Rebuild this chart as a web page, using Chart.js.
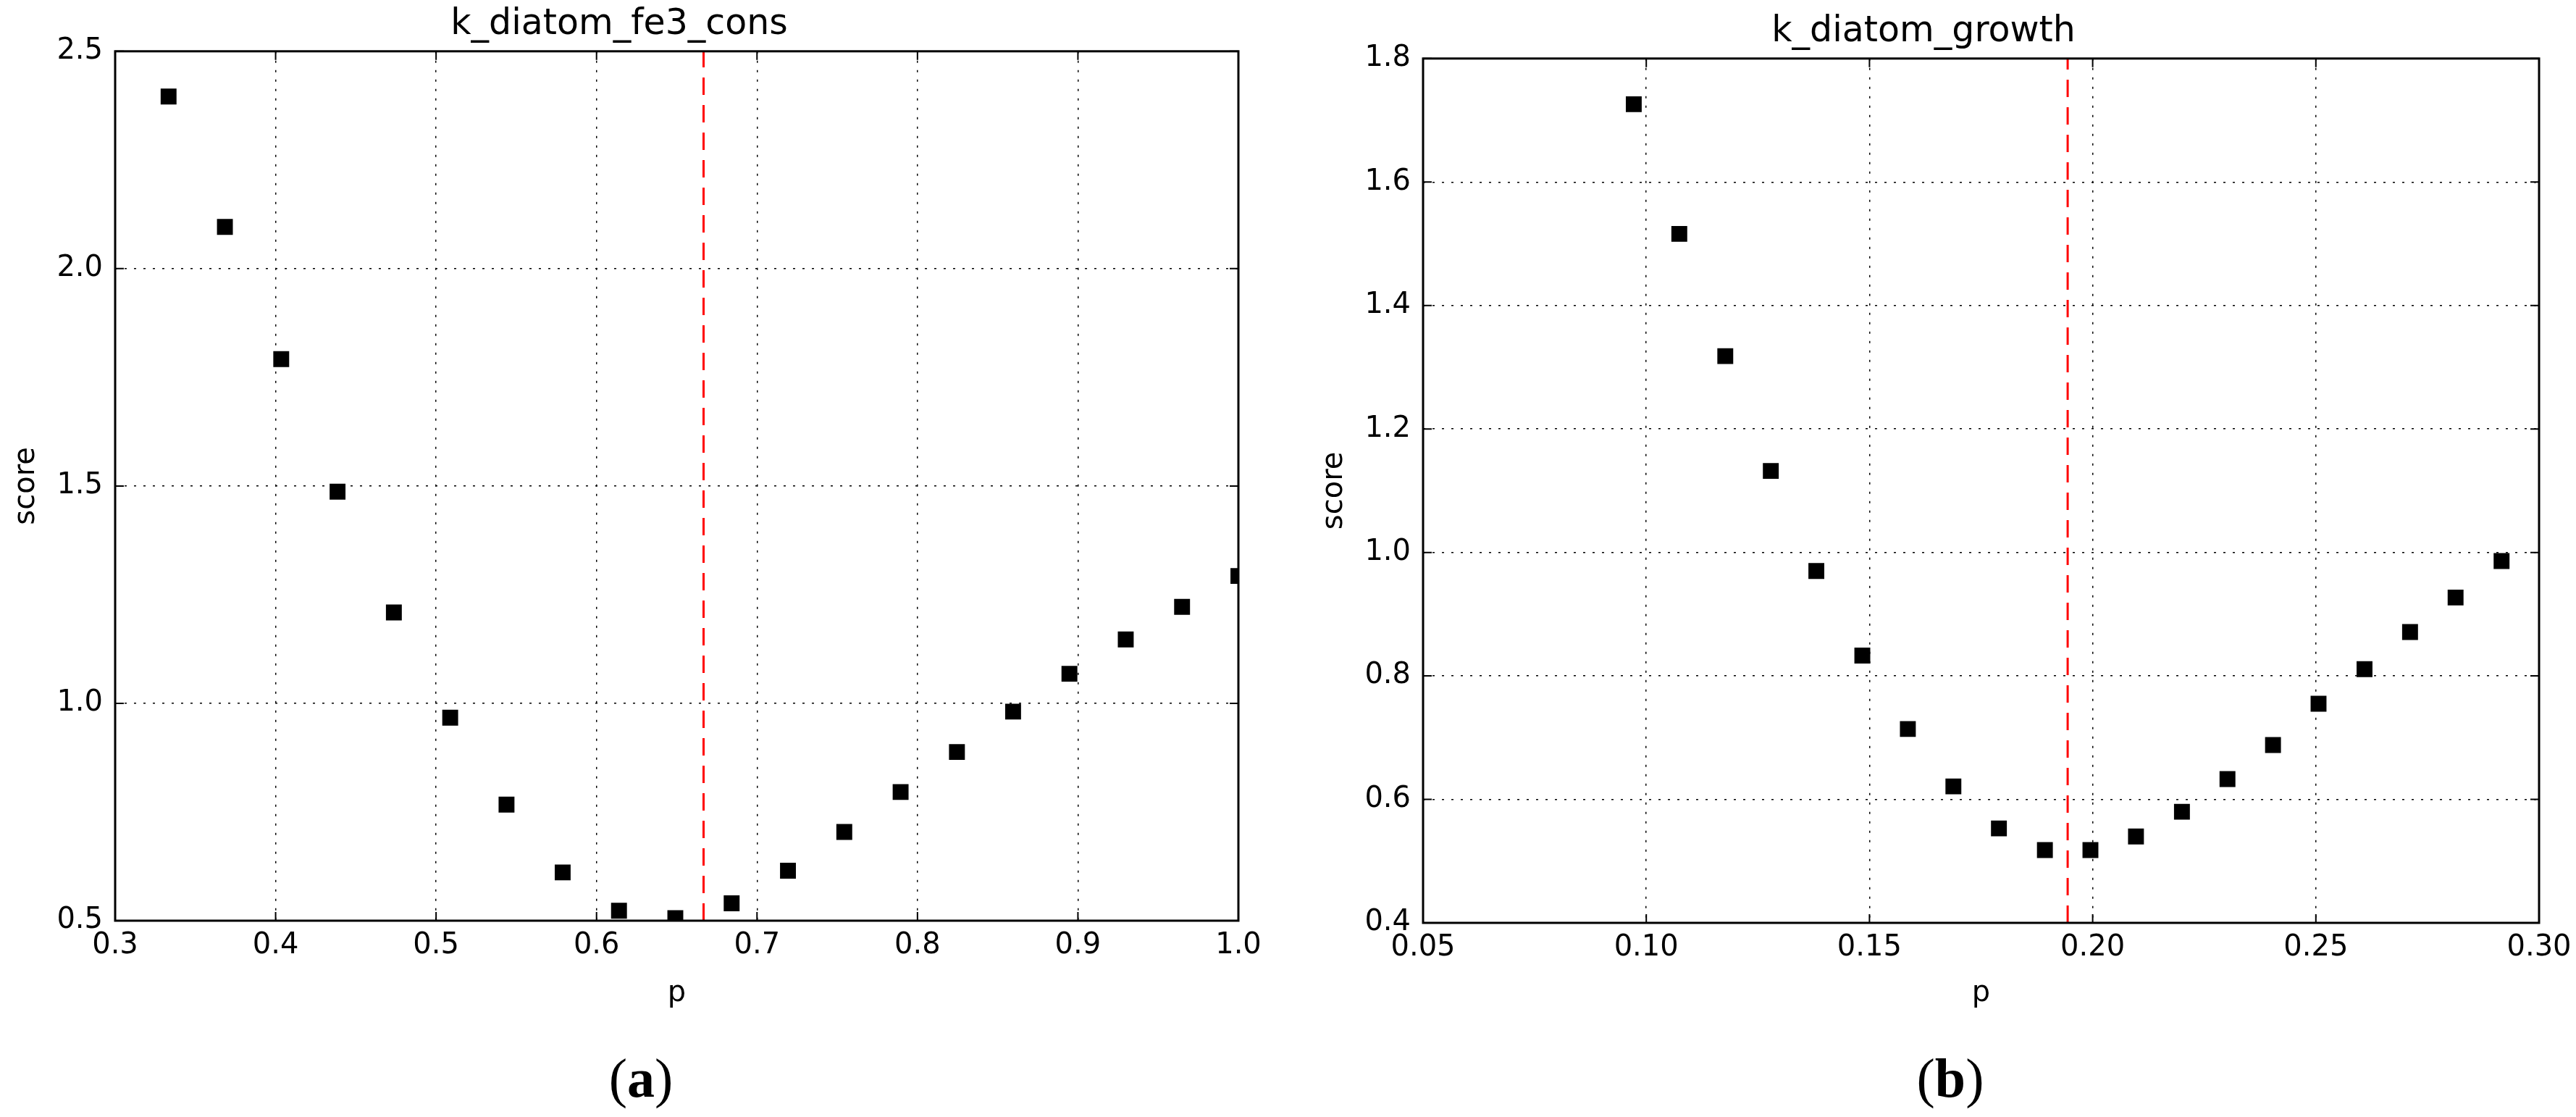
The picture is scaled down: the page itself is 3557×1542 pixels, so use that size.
<!DOCTYPE html>
<html>
<head>
<meta charset="utf-8">
<script src="https://cdn.jsdelivr.net/npm/chart.js@4.4.0/dist/chart.umd.min.js"></script>
<style>
  html, body { margin: 0; padding: 0; background: #fff; }
  body { width: 3557px; height: 1542px; position: relative; overflow: hidden; }
  canvas { position: absolute; top: 0; }
  #chartA { left: 0; }
  #chartB { left: 1806px; }
  .caption {
    position: absolute;
    top: 1450px;
    font-family: "Liberation Serif", "DejaVu Serif", serif;
    font-size: 76px;
    line-height: 1;
    color: #000;
    transform: translateX(-50%);
  }
</style>
</head>
<body>
<canvas id="chartA" width="1869" height="1411"></canvas>
<canvas id="chartB" width="1859" height="1414"></canvas>
<div class="caption" style="left: 885px;">(<b>a</b>)</div>
<div class="caption" style="left: 2693px;">(<b>b</b>)</div>

<script>
// panel (a): k_diatom_fe3_cons
const pA = [0.3333, 0.3684, 0.4035, 0.4386, 0.4737, 0.5088, 0.5439, 0.5789, 0.6140, 0.6491,
            0.6842, 0.7193, 0.7544, 0.7895, 0.8246, 0.8596, 0.8947, 0.9298, 0.9649, 1.0000];
const scoreA = [2.396, 2.096, 1.792, 1.487, 1.209, 0.967, 0.767, 0.611, 0.523, 0.506,
                0.540, 0.615, 0.704, 0.796, 0.888, 0.981, 1.068, 1.147, 1.222, 1.293];
const optA = 0.6667;
const xTicksA = [0.3, 0.4, 0.5, 0.6, 0.7, 0.8, 0.9, 1.0];
const yTicksA = [0.5, 1.0, 1.5, 2.0, 2.5];

// panel (b): k_diatom_growth
const pB = [0.0972, 0.1074, 0.1177, 0.1279, 0.1381, 0.1484, 0.1586, 0.1688, 0.1790, 0.1893,
            0.1995, 0.2097, 0.2200, 0.2302, 0.2404, 0.2506, 0.2609, 0.2711, 0.2813, 0.2916];
const scoreB = [1.726, 1.516, 1.318, 1.132, 0.970, 0.833, 0.714, 0.621, 0.553, 0.518,
                0.518, 0.540, 0.580, 0.633, 0.688, 0.755, 0.811, 0.871, 0.927, 0.986];
const optB = 0.1944;
const xTicksB = [0.05, 0.10, 0.15, 0.20, 0.25, 0.30];
const yTicksB = [0.4, 0.6, 0.8, 1.0, 1.2, 1.4, 1.6, 1.8];

Chart.defaults.font.family = "'DejaVu Sans', sans-serif";
Chart.defaults.color = "#000";

// matplotlib-style box around the axes with inward tick marks
const framePlugin = {
  id: "frame",
  afterDatasetsDraw(chart) {
    const { ctx, chartArea: a, scales: { x, y } } = chart;
    ctx.save();
    ctx.setLineDash([]);
    ctx.strokeStyle = "#000";
    ctx.lineWidth = 2;
    ctx.beginPath();
    x.ticks.forEach(t => {
      const px = x.getPixelForValue(t.value);
      ctx.moveTo(px, a.top); ctx.lineTo(px, a.top + 12);
      ctx.moveTo(px, a.bottom); ctx.lineTo(px, a.bottom - 12);
    });
    y.ticks.forEach(t => {
      const py = y.getPixelForValue(t.value);
      ctx.moveTo(a.left, py); ctx.lineTo(a.left + 12, py);
      ctx.moveTo(a.right, py); ctx.lineTo(a.right - 12, py);
    });
    ctx.stroke();
    ctx.lineWidth = 3;
    ctx.strokeRect(a.left, a.top, a.right - a.left, a.bottom - a.top);
    ctx.restore();
  }
};

function makeChart(id, cfg) {
  const yMin = cfg.yTicks[0];
  const yMax = cfg.yTicks[cfg.yTicks.length - 1];
  new Chart(document.getElementById(id), {
    type: "scatter",
    data: {
      datasets: [
        {
          data: cfg.xs.map((v, i) => ({ x: v, y: cfg.ys[i] })),
          pointStyle: "rect",
          pointRadius: 15.5,
          pointHoverRadius: 15.5,
          backgroundColor: "#000",
          borderWidth: 0,
          clip: 0
        },
        {
          data: [{ x: cfg.opt, y: yMin }, { x: cfg.opt, y: yMax }],
          showLine: true,
          pointRadius: 0,
          borderColor: "#ff0000",
          borderWidth: 3,
          borderDash: [24, 14],
          clip: 0
        }
      ]
    },
    options: {
      responsive: false,
      animation: false,
      // right padding equals the y-axis width so the title sits over the plot
      layout: { padding: { left: 0, right: 159, top: 0, bottom: 0 } },
      plugins: {
        legend: { display: false },
        tooltip: { enabled: false },
        title: {
          display: true,
          text: cfg.title,
          color: "#000",
          font: { size: 49, weight: "normal" },
          padding: cfg.titlePad
        }
      },
      scales: {
        x: {
          type: "linear",
          min: cfg.xTicks[0],
          max: cfg.xTicks[cfg.xTicks.length - 1],
          afterBuildTicks: s => { s.ticks = cfg.xTicks.map(v => ({ value: v })); },
          afterFit: s => { s.height = 140; },
          ticks: {
            padding: 11,
            font: { size: 40 },
            callback: v => v.toFixed(cfg.xDec)
          },
          grid: { color: "#000", lineWidth: 1.5, drawTicks: false },
          border: { display: false, dash: [3, 10] },
          title: {
            display: true,
            text: "p",
            font: { size: 40 },
            padding: { top: 0, bottom: cfg.pPad }
          }
        },
        y: {
          type: "linear",
          min: yMin,
          max: yMax,
          afterBuildTicks: s => { s.ticks = cfg.yTicks.map(v => ({ value: v })); },
          afterFit: s => { s.width = 159; },
          ticks: {
            padding: 17,
            font: { size: 40 },
            callback: v => v.toFixed(1)
          },
          grid: { color: "#000", lineWidth: 1.5, drawTicks: false },
          border: { display: false, dash: [3, 10] },
          title: {
            display: true,
            text: "score",
            font: { size: 40 },
            padding: { top: 13, bottom: 0 }
          }
        }
      }
    },
    plugins: [framePlugin]
  });
}

makeChart("chartA", {
  title: "k_diatom_fe3_cons",
  titlePad: { top: 5, bottom: 7 },
  xs: pA, ys: scoreA, opt: optA,
  xTicks: xTicksA, yTicks: yTicksA, xDec: 1,
  pPad: 15
});

makeChart("chartB", {
  title: "k_diatom_growth",
  titlePad: { top: 15, bottom: 7 },
  xs: pB, ys: scoreB, opt: optB,
  xTicks: xTicksB, yTicks: yTicksB, xDec: 2,
  pPad: 18
});
</script>
</body>
</html>
